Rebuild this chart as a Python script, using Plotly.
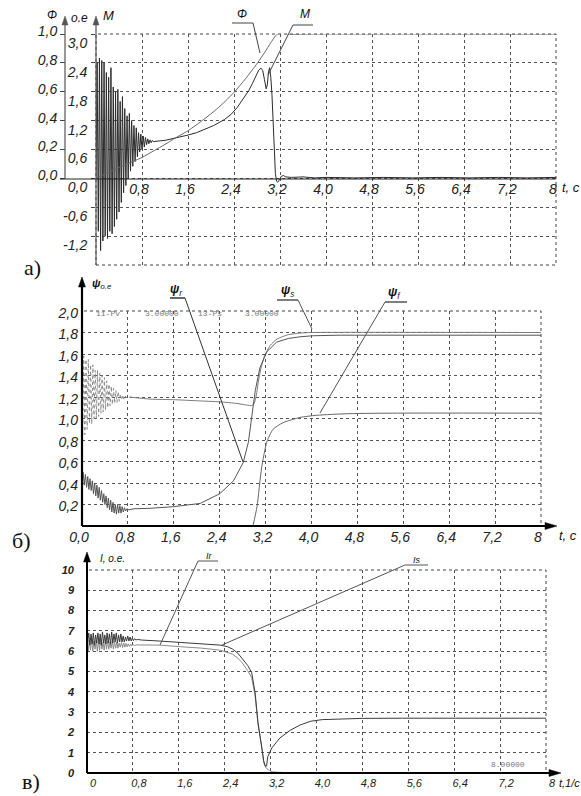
import plotly.graph_objects as go

W, H = 581, 796


def px(x):
    return x / W


def py(y):
    return 1 - y / H


# ---------------- panel a) : flux Phi and torque M ----------------
m_t = [0.00, 0.02, 0.04, 0.06, 0.08, 0.10, 0.12, 0.14, 0.16, 0.18, 0.20, 0.22, 0.24, 0.26, 0.28,
       0.30, 0.32, 0.34, 0.36, 0.38, 0.40, 0.42, 0.44, 0.46, 0.48, 0.50, 0.52, 0.54, 0.56, 0.58,
       0.60, 0.62, 0.64, 0.66, 0.68, 0.70, 0.72, 0.74, 0.76, 0.78, 0.80, 0.82, 0.84, 0.86, 0.88,
       0.90, 0.92, 0.94, 0.96, 0.98, 1.00, 1.04, 1.20, 1.36, 1.60, 1.75, 1.88, 2.05, 2.23, 2.35,
       2.46, 2.58, 2.66, 2.72, 2.78, 2.83, 2.87, 2.90, 2.93, 2.96, 2.98, 3.00, 3.02, 3.04, 3.06,
       3.08, 3.10, 3.12, 3.14, 3.16, 3.19, 3.22, 3.26, 3.30, 3.40, 3.60, 3.80, 4.00, 4.50, 5.00,
       5.50, 6.00, 6.50, 7.00, 7.50, 8.00]
m_val = [0.0, 2.4, -1.1, 2.5, -1.5, 2.45, -1.3, 2.4, -1.2, 2.2, -1.25, 2.1, -1.1, 2.3, -1.15,
         1.9, -1.0, 1.8, -0.85, 1.85, -0.7, 1.6, -0.5, 1.7, -0.3, 1.45, -0.15, 1.3, 0.0, 1.35,
         0.15, 1.2, 0.25, 1.1, 0.35, 1.05, 0.45, 0.95, 0.55, 0.92, 0.6, 0.88, 0.65, 0.85, 0.7,
         0.82, 0.72, 0.8, 0.74, 0.79, 0.76, 0.77, 0.79, 0.83, 0.9, 0.95, 1.01, 1.1, 1.22, 1.33,
         1.48, 1.68, 1.83, 1.97, 2.13, 2.25, 2.29, 2.24, 2.05, 1.86, 1.95, 2.22, 2.3, 2.1, 1.75,
         1.1, 0.45, 0.1, -0.06, -0.08, -0.03, 0.04, 0.06, 0.03, 0.02, 0.03, 0.01, 0.02, 0.01, 0.02,
         0.01, 0.02, 0.01, 0.02, 0.01, 0.02]

phi_t = [0.0, 0.4, 0.8, 1.0, 1.2, 1.36, 1.6, 1.88, 2.1, 2.25, 2.41, 2.6, 2.81, 2.93, 3.04, 3.1,
         3.14, 3.18, 3.24, 3.3, 3.4, 3.6, 8.0]
phi_val = [0.0, 0.075, 0.145, 0.19, 0.235, 0.275, 0.33, 0.41, 0.48, 0.535, 0.60, 0.69, 0.80,
           0.87, 0.94, 0.975, 0.995, 1.006, 1.01, 1.004, 0.998, 1.0, 1.0]

t_ticks_a = [0.8, 1.6, 2.4, 3.2, 4.0, 4.8, 5.6, 6.4, 7.2, 8.0]
t_text_a = ["0,8", "1,6", "2,4", "3,2", "4,0", "4,8", "5,6", "6,4", "7,2", "8"]
m_ticks = [-1.2, -0.6, 0.0, 0.6, 1.2, 1.8, 2.4, 3.0]
m_text = ["-1,2", "-0,6", "0,0", "0,6", "1,2", "1,8", "2,4", "3,0"]
phi_ticks = [0.0, 0.2, 0.4, 0.6, 0.8, 1.0]
phi_text = ["0,0", "0,2", "0,4", "0,6", "0,8", "1,0"]

# ---------------- panel б) : flux linkages ----------------
psi_s_t = [0.00, 0.01, 0.03, 0.05, 0.07, 0.09, 0.11, 0.13, 0.15, 0.17, 0.19, 0.21, 0.23, 0.25,
           0.27, 0.29, 0.31, 0.33, 0.35, 0.37, 0.39, 0.41, 0.43, 0.45, 0.47, 0.49, 0.51, 0.53,
           0.55, 0.57, 0.59, 0.61, 0.63, 0.65, 0.67, 0.69, 0.71, 0.73, 0.75, 0.78, 0.82,
           1.2, 1.6, 2.0, 2.4, 2.7, 2.87, 2.96, 3.0, 3.04, 3.07, 3.12, 3.18, 3.28, 3.4, 3.6,
           3.8, 4.0, 8.0]
psi_s = [1.2, 0.8, 1.58, 0.85, 1.55, 0.9, 1.55, 0.95, 1.5, 0.95, 1.5, 1.0, 1.45, 1.0,
         1.45, 1.02, 1.42, 1.05, 1.4, 1.06, 1.38, 1.08, 1.35, 1.1, 1.32, 1.12, 1.3, 1.13,
         1.28, 1.14, 1.26, 1.15, 1.25, 1.16, 1.23, 1.17, 1.22, 1.18, 1.21, 1.19, 1.2,
         1.18, 1.175, 1.165, 1.155, 1.14, 1.125, 1.12, 1.14, 1.22, 1.33, 1.47, 1.58, 1.68,
         1.74, 1.78, 1.795, 1.80, 1.80]

psi_r_t = [0.00, 0.02, 0.04, 0.06, 0.08, 0.10, 0.12, 0.14, 0.16, 0.18, 0.20, 0.22, 0.24, 0.26,
           0.28, 0.30, 0.32, 0.34, 0.36, 0.38, 0.40, 0.42, 0.44, 0.46, 0.48, 0.50, 0.52, 0.54,
           0.56, 0.58, 0.60, 0.62, 0.64, 0.66, 0.68, 0.70, 0.72, 0.74, 0.76, 0.78, 0.82, 0.9,
           1.2, 1.6, 2.06, 2.4, 2.64, 2.81, 2.9, 2.96, 3.02, 3.1, 3.22, 3.39, 3.6, 3.8, 4.03,
           4.5, 8.0]
psi_r = [0.45, 0.5, 0.38, 0.48, 0.36, 0.46, 0.34, 0.44, 0.33, 0.42, 0.3, 0.4, 0.28, 0.38,
         0.26, 0.36, 0.24, 0.33, 0.22, 0.3, 0.2, 0.28, 0.17, 0.26, 0.15, 0.24, 0.13, 0.22,
         0.12, 0.2, 0.11, 0.2, 0.12, 0.19, 0.12, 0.18, 0.13, 0.17, 0.14, 0.16, 0.15, 0.16,
         0.165, 0.18, 0.21, 0.30, 0.42, 0.59, 0.78, 1.02, 1.26, 1.47, 1.62, 1.71, 1.745, 1.76,
         1.77, 1.775, 1.775]

psi_f_t = [2.98, 3.05, 3.13, 3.22, 3.33, 3.5, 3.8, 4.09, 4.66, 5.5, 8.0]
psi_f = [0.0, 0.18, 0.54, 0.78, 0.9, 0.96, 1.01, 1.03, 1.045, 1.05, 1.05]

t_ticks_b = [0.0, 0.8, 1.6, 2.4, 3.2, 4.0, 4.8, 5.6, 6.4, 7.2, 8.0]
t_text_b = ["0,0", "0,8", "1,6", "2,4", "3,2", "4,0", "4,8", "5,6", "6,4", "7,2", "8"]
psi_ticks = [0.2, 0.4, 0.6, 0.8, 1.0, 1.2, 1.4, 1.6, 1.8, 2.0]
psi_text = ["0,2", "0,4", "0,6", "0,8", "1,0", "1,2", "1,4", "1,6", "1,8", "2,0"]

# ---------------- panel в) : currents ----------------
is_t = [0.00, 0.01, 0.03, 0.05, 0.07, 0.09, 0.11, 0.13, 0.15, 0.17, 0.19, 0.21, 0.23, 0.25,
        0.27, 0.29, 0.31, 0.33, 0.35, 0.37, 0.39, 0.41, 0.43, 0.45, 0.47, 0.49, 0.51, 0.53,
        0.55, 0.57, 0.59, 0.61, 0.63, 0.65, 0.67, 0.69, 0.71, 0.73, 0.75, 0.77, 0.79, 0.81,
        0.83, 0.85, 0.88, 0.95, 1.27, 1.63, 2.0, 2.32, 2.45, 2.54, 2.63, 2.72, 2.8, 2.87,
        2.93, 2.98, 3.05, 3.08, 3.11, 3.13, 3.15, 3.22, 3.36, 3.54, 3.71, 3.9, 4.1, 4.4, 4.8,
        5.5, 8.0]
is_val = [7.8, 6.4, 6.9, 6.3, 6.85, 6.35, 6.9, 6.3, 6.8, 6.4, 6.9, 6.35, 6.85, 6.3,
          6.95, 6.4, 6.8, 6.35, 6.9, 6.4, 6.85, 6.35, 6.95, 6.4, 6.85, 6.45, 6.9, 6.4,
          6.8, 6.45, 6.85, 6.45, 6.75, 6.45, 6.7, 6.5, 6.75, 6.5, 6.7, 6.5, 6.65, 6.52,
          6.62, 6.55, 6.58, 6.55, 6.5, 6.42, 6.36, 6.3, 6.22, 6.1, 5.9, 5.6, 5.3, 4.95,
          3.95, 2.5, 1.3, 0.6, 0.32, 0.35, 0.8, 1.23, 1.72, 2.1, 2.36, 2.55, 2.63, 2.67, 2.69,
          2.7, 2.7]

ir_t = [0.00, 0.02, 0.04, 0.06, 0.08, 0.10, 0.12, 0.14, 0.16, 0.18, 0.20, 0.22, 0.24, 0.26,
        0.28, 0.30, 0.32, 0.34, 0.36, 0.38, 0.40, 0.42, 0.44, 0.46, 0.48, 0.50, 0.52, 0.54,
        0.56, 0.58, 0.60, 0.62, 0.64, 0.66, 0.68, 0.70, 0.72, 0.74, 0.76, 0.78, 0.80, 0.83,
        0.86, 0.95, 1.27, 1.63, 2.0, 2.32, 2.45, 2.54, 2.63, 2.7, 2.8, 2.87, 2.93, 2.98, 3.05,
        3.08, 3.12, 3.18, 3.24, 3.4, 3.6, 8.0]
ir_val = [6.4, 6.0, 6.55, 6.05, 6.6, 6.0, 6.5, 6.1, 6.55, 6.0, 6.5, 6.05, 6.6, 6.1,
          6.45, 6.05, 6.55, 6.1, 6.5, 6.1, 6.45, 6.15, 6.5, 6.1, 6.45, 6.15, 6.45, 6.15,
          6.4, 6.2, 6.42, 6.18, 6.4, 6.2, 6.38, 6.22, 6.36, 6.24, 6.35, 6.26, 6.33, 6.28,
          6.31, 6.3, 6.3, 6.22, 6.15, 6.05, 5.95, 5.85, 5.65, 5.45, 5.05, 4.7, 3.8, 2.4, 1.2,
          0.5, 0.25, 0.12, 0.05, 0.02, 0.0, 0.0]

t_ticks_c = [0.0, 0.8, 1.6, 2.4, 3.2, 4.0, 4.8, 5.6, 6.4, 7.2, 8.0]
t_text_c = ["0", "0,8", "1,6", "2,4", "3,2", "4,0", "4,8", "5,6", "6,4", "7,2", "8"]
i_ticks = [0, 1, 2, 3, 4, 5, 6, 7, 8, 9, 10]
i_text = ["0", "1", "2", "3", "4", "5", "6", "7", "8", "9", "10"]

# ------------------------------------------------------------------
fig = go.Figure()

# panel a
fig.add_trace(go.Scatter(x=m_t, y=m_val, mode="lines", xaxis="x", yaxis="y",
                         line=dict(color="#2b2b2b", width=1), name="M"))
fig.add_trace(go.Scatter(x=phi_t, y=phi_val, mode="lines", xaxis="x", yaxis="y2",
                         line=dict(color="#666666", width=1, shape="spline", smoothing=0.6),
                         name="Φ"))

# panel б
n_osc_s = sum(1 for t in psi_s_t if t <= 0.82)
fig.add_trace(go.Scatter(x=psi_s_t[:n_osc_s], y=psi_s[:n_osc_s], mode="lines", xaxis="x2",
                         yaxis="y3", line=dict(color="#888888", width=1, dash="dot"),
                         name="ψs"))
fig.add_trace(go.Scatter(x=psi_s_t[n_osc_s - 1:], y=psi_s[n_osc_s - 1:], mode="lines",
                         xaxis="x2", yaxis="y3",
                         line=dict(color="#7a7a7a", width=1, shape="spline", smoothing=0.5),
                         name="ψs"))
fig.add_trace(go.Scatter(x=psi_r_t, y=psi_r, mode="lines", xaxis="x2", yaxis="y3",
                         line=dict(color="#555555", width=1), name="ψr"))
fig.add_trace(go.Scatter(x=psi_f_t, y=psi_f, mode="lines", xaxis="x2", yaxis="y3",
                         line=dict(color="#666666", width=1, shape="spline", smoothing=0.6),
                         name="ψf"))

# panel в
fig.add_trace(go.Scatter(x=ir_t, y=ir_val, mode="lines", xaxis="x3", yaxis="y4",
                         line=dict(color="#8a8a8a", width=1), name="Ir"))
fig.add_trace(go.Scatter(x=is_t, y=is_val, mode="lines", xaxis="x3", yaxis="y4",
                         line=dict(color="#3a3a3a", width=1), name="Is"))

tick_font = dict(family="Liberation Sans, Arial, sans-serif", size=14, color="#222222",
                 style="italic")
small_font = dict(family="Liberation Sans, Arial, sans-serif", size=11, color="#222222",
                  style="italic")
grid = dict(showgrid=True, gridcolor="#555555", gridwidth=1, griddash="dot",
            zeroline=False, showline=False, automargin=False)

fig.update_layout(
    template="none",
    width=W, height=H, margin=dict(l=0, r=0, t=0, b=0, pad=0, autoexpand=False),
    paper_bgcolor="white", plot_bgcolor="white", showlegend=False,
    # ---- a
    xaxis=dict(domain=[px(96), px(556)], range=[0, 8], anchor="free", position=py(179),
               tickmode="array", tickvals=t_ticks_a, ticktext=t_text_a, ticks="",
               tickfont=tick_font, ticklabelshift=-3, ticklabelstandoff=0, **grid),
    yaxis=dict(domain=[py(265), py(34)], range=[-1.8, 3.0], anchor="x",
               tickmode="array", tickvals=m_ticks, ticktext=m_text, ticks="outside",
               ticklen=4, tickcolor="#444", tickfont=tick_font, ticklabelshift=9,
               ticklabelstandoff=1, **grid),
    yaxis2=dict(overlaying="y", anchor="free", position=px(65), side="left",
                range=[-0.6, 1.0], tickmode="array", tickvals=phi_ticks, ticktext=phi_text,
                ticks="outside", ticklen=5, tickcolor="#444", tickfont=tick_font,
                ticklabelshift=-3, showgrid=False, zeroline=False, showline=False,
                automargin=False),
    # ---- б
    xaxis2=dict(domain=[px(82), px(541)], range=[0, 8], anchor="y3",
                tickmode="array", tickvals=t_ticks_b, ticktext=t_text_b, ticks="",
                tickfont=tick_font, ticklabelshift=-3, ticklabelstandoff=1, **grid),
    yaxis3=dict(domain=[py(526), py(311)], range=[0, 2.0], anchor="x2",
                tickmode="array", tickvals=psi_ticks, ticktext=psi_text, ticks="",
                tickfont=tick_font, ticklabelshift=2, ticklabelstandoff=3, **grid),
    # ---- в
    xaxis3=dict(domain=[px(87), px(546)], range=[0, 8], anchor="y4",
                tickmode="array", tickvals=t_ticks_c, ticktext=t_text_c, ticks="",
                tickfont=small_font, ticklabelshift=6, ticklabelstandoff=2, **grid),
    yaxis4=dict(domain=[py(773), py(570)], range=[0, 10], anchor="x3",
                tickmode="array", tickvals=i_ticks, ticktext=i_text, ticks="",
                tickfont=dict(small_font, weight="bold"), ticklabelstandoff=12, **grid),
)

shapes = []
anns = []

# dotted frames
for xr, yr in (("x", "y"), ("x2", "y3"), ("x3", "y4")):
    shapes.append(dict(type="rect", xref=f"{xr} domain", yref=f"{yr} domain",
                       x0=0, x1=1, y0=0, y1=1,
                       line=dict(color="#444444", width=1, dash="dot"), layer="below"))


def line(x0, y0, x1, y1, color="#222222", width=1):
    shapes.append(dict(type="line", xref="paper", yref="paper", x0=px(x0), y0=py(y0),
                       x1=px(x1), y1=py(y1), line=dict(color=color, width=width)))


def tri(points, color):
    d = "M " + " L ".join(f"{px(a):.5f},{py(b):.5f}" for a, b in points) + " Z"
    shapes.append(dict(type="path", xref="paper", yref="paper", path=d,
                       fillcolor=color, line=dict(color=color, width=0.5)))


def arrow_up(x, tip, tail, color="#111111", width=1.5, hw=3.5, hl=10):
    line(x, tail, x, tip + hl - 1, color=color, width=width)
    tri([(x, tip), (x - hw, tip + hl), (x + hw, tip + hl)], color)


def arrow_right(y, tip, tail, color="#111111", width=1.5, hw=3.5, hl=12):
    line(tail, y, tip - hl + 1, y, color=color, width=width)
    tri([(tip, y), (tip - hl, y - hw), (tip - hl, y + hw)], color)


def text(x, y, s, size=13, family="Liberation Sans, Arial, sans-serif", style="italic",
         color="#111111", weight="normal", xanchor="center"):
    anns.append(dict(x=px(x), y=py(y), xref="paper", yref="paper", text=s,
                     showarrow=False, xanchor=xanchor, yanchor="middle",
                     font=dict(family=family, size=size, style=style, color=color,
                               weight=weight)))


serif = "Liberation Serif, Times New Roman, serif"
mono = "Liberation Mono, DejaVu Sans Mono, monospace"

# ---- panel a decorations
line(60, 179, 556, 179, color="#222222", width=1.2)
arrow_up(96, 16, 265, color="#555555", width=1.2, hw=3, hl=9)
arrow_up(65, 16, 179, color="#555555", width=1.2, hw=3, hl=9)
text(52, 15, "Φ", size=12)
text(80, 18, "o.e", size=12)
text(108, 16, "M", size=13)
text(242, 14, "Φ", size=12)
line(232, 23, 253, 23, color="#444444")
line(253, 23, 260, 53, color="#444444")
text(305, 14, "M", size=12)
line(293, 25, 313, 25, color="#444444")
line(293, 25, 268, 75, color="#444444")
text(560, 187, "t, c", size=13, xanchor="left")
text(32, 267, "a)", size=22, family=serif, style="normal")

# ---- panel б decorations
arrow_up(82, 277, 526, color="#000000", width=2.2)
arrow_right(526, 557, 82, color="#000000", width=2.2)
text(101, 284, "<b>ψ</b><sub>o.e</sub>", size=11)
text(94, 313, "11-Pv", size=8, family=mono, style="normal", color="#777777", xanchor="left")
text(143, 313, "3.00000", size=8, family=mono, style="normal", color="#777777",
     xanchor="left")
text(196, 313, "13-Ps", size=8, family=mono, style="normal", color="#777777", xanchor="left")
text(243, 313, "3.00000", size=8, family=mono, style="normal", color="#777777",
     xanchor="left")
text(177, 290, "<b>ψ</b><sub>r</sub>", size=12)
line(170, 298, 185, 298, color="#333333", width=1.5)
line(185, 298, 243, 462, color="#333333")
text(288, 291, "<b>ψ</b><sub>s</sub>", size=12)
line(277, 300, 298, 300, color="#555555", width=1.5)
line(298, 300, 312, 329, color="#555555")
text(394, 293, "<b>ψ</b><sub>f</sub>", size=12)
line(385, 302, 407, 302, color="#555555", width=1.5)
line(385, 302, 320, 413, color="#555555")
text(557, 535, "t, c", size=13, xanchor="left")
text(21, 540, "б)", size=22, family=serif, style="normal")

# ---- panel в decorations
arrow_up(87, 552, 773, color="#000000", width=2)
arrow_right(773, 561, 87, color="#000000", width=2)
text(112, 558, "I, o.e.", size=10)
text(209, 556, "Ir", size=9)
line(198, 561, 218, 561, color="#555555")
line(198, 561, 160, 645, color="#555555")
text(417, 560, "Is", size=9)
line(405, 565, 428, 565, color="#555555")
line(405, 565, 222, 645, color="#555555")
text(508, 764, "8.00000", size=8, family=mono, style="normal", color="#777777")
text(557, 783, "t,1/c", size=11, xanchor="left")
text(31, 781, "в)", size=22, family=serif, style="normal")

fig.update_layout(shapes=shapes, annotations=anns)
fig.write_html("out.html", config={"displayModeBar": False},
               post_script="document.body.style.margin='0';"
                           "document.body.style.overflow='hidden';")
